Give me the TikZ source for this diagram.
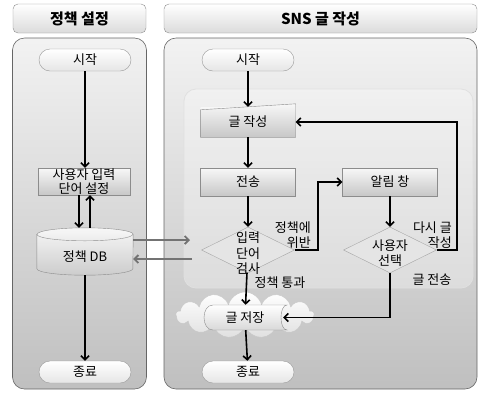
\documentclass[tikz,border=0pt]{standalone}
\usepackage{fontspec}
\setmainfont{Noto Sans CJK KR}
\usetikzlibrary{positioning,arrows.meta,shapes.geometric,shapes.symbols}

\begin{document}
\begin{tikzpicture}[
  x=1pt, y=-1pt,
  font=\fontsize{13}{15}\selectfont,
  lane/.style={draw=black!60, rounded corners=12pt, top color=black!5, bottom color=black!25, line width=0.6pt},
  head/.style={draw=black!45, rounded corners=5pt, top color=white, bottom color=black!14, font=\fontsize{15}{17}\selectfont\bfseries},
  group/.style={draw=black!12, rounded corners=12pt, fill=white, fill opacity=0.3, line width=0.8pt},
  term/.style={draw=black!40, rounded corners=11pt, top color=white, bottom color=black!10, minimum width=92pt, minimum height=22pt, inner sep=0pt},
  box/.style={draw=black!45, top color=black!3, bottom color=black!22, minimum width=95pt, minimum height=28pt, inner sep=0pt},
  dec/.style={diamond, draw=black!35, fill=black!10, minimum width=93pt, minimum height=46pt, inner sep=0pt},
  lbl/.style={align=right, inner sep=0pt},
  >={Straight Barb[length=4pt,width=8pt]},
  flow/.style={->, line width=1.6pt},
  xlane/.style={->, line width=1.8pt, draw=black!55},
]
  \useasboundingbox (0,0) rectangle (478,392);
  % lanes
  \node[head, minimum width=133pt, minimum height=29pt] (lhead) at (79.5,18.5) {정책 설정};
  \node[head, minimum width=313pt, minimum height=29pt] (rhead) at (320.5,18.5) {SNS 글 작성};
  \node[lane, minimum width=134pt, minimum height=351pt] (lbody) at (79.5,213.5) {};
  \node[lane, minimum width=313pt, minimum height=351pt] (rbody) at (320.5,213.5) {};
  \node[group, minimum width=289pt, minimum height=199pt] (loop) at (328.5,188.5) {};

  % policy lane
  \node[term] (lstart) at (85,60) {시작};
  \node[box, minimum width=92pt, minimum height=27pt] (setword) at (84,181.5)
    {\smash{\raisebox{-4pt}{\fontsize{13}{11.5}\selectfont\begin{tabular}{@{}c@{}}사용자 입력\\단어 설정\end{tabular}}}};
  \node[minimum width=96pt, minimum height=47pt, inner sep=0pt] (db) at (85,251.5) {};
  \path[draw=black!45, top color=black!3, bottom color=black!20]
    ([yshift=-6.5pt]db.north west) -- ([yshift=6.5pt]db.south west)
    arc[start angle=180, end angle=360, x radius=48pt, y radius=6.5pt]
    -- ([yshift=-6.5pt]db.north east)
    arc[start angle=0, end angle=180, x radius=48pt, y radius=6.5pt] -- cycle;
  \draw[black!45] ([yshift=-6.5pt]db.north west)
    arc[start angle=180, end angle=360, x radius=48pt, y radius=6.5pt];
  \node (dblbl) at (85,257) {정책 DB};
  \node[term] (lend) at (85,372) {종료};

  % posting lane
  \node[term] (rstart) at (248,60) {시작};
  \node[box, draw=none, minimum height=30pt] (write) at (248,122) {};
  \path[draw=black!45, top color=black!3, bottom color=black!22]
    (write.south west) -- ([yshift=-3pt]write.north west) -- ([yshift=3pt]write.north east)
    -- (write.south east) -- cycle;
  \node at (write.center) {글 작성};
  \node[box] (send) at (248,182) {전송};
  \node[dec] (check) at (248,250) {\smash{\raisebox{-8pt}{\begin{tabular}{@{}c@{}}입력\\단어\\검사\end{tabular}}}};
  \node[box] (alert) at (390,182) {알림 창};
  \node[dec] (choose) at (390,250) {\smash{\raisebox{-8pt}{\begin{tabular}{@{}c@{}}사용자\\선택\end{tabular}}}};
  \node[cloud, cloud puffs=13, aspect=3.1, draw=black!22, top color=white, bottom color=black!12,
    minimum width=138pt, minimum height=46pt] (cloud) at (245,315) {};
  \path[draw=black!45, top color=white, bottom color=black!15]
    (213,305) .. controls (201,305) and (201,330) .. (213,330) -- (287,330)
    .. controls (279,330) and (279,305) .. (287,305) -- cycle;
  \node[minimum width=76pt, minimum height=25pt, inner sep=0pt] (save) at (245,317.5) {글 저장};
  \node[term] (rend) at (248,372) {종료};

  % connectors
  \draw[flow] (lstart) -- (lstart |- setword.north);
  \draw[flow] ([xshift=-5pt]setword.south) -- ([xshift=-5pt]setword.south |- db.north);
  \draw[flow] ([xshift=6pt]setword.south |- db.north) -- ([xshift=6pt]setword.south);
  \draw[flow] (db) -- (lend);
  \foreach \a/\b in {rstart/write,write/send,send/check,alert/choose,check/save,save/rend}
    \draw[flow] (\a) -- (\b);
  \draw[flow] (check.east) -- ++(23,0) |- (alert.west);
  \draw[flow] (choose.east) -- ++(20,0) |- (write.east);
  \draw[flow] (choose.south) |- (save.east);
  \coordinate (toin) at (190,240);
  \coordinate (fromout) at (192,259);
  \draw[xlane] (db.east |- toin) -- (toin);
  \draw[xlane] (fromout) -- (db.east |- fromout);

  % labels
  \node[lbl, anchor=east] (viol) at (311,235) {정책에\\위반};
  \node[lbl, anchor=east] (again) at (452,235.5) {다시 글\\작성};
  \node[lbl] (sendlbl) at (432,280) {글 전송};
  \node[lbl] (pass) at (280,283) {정책 통과};
\end{tikzpicture}
\end{document}
